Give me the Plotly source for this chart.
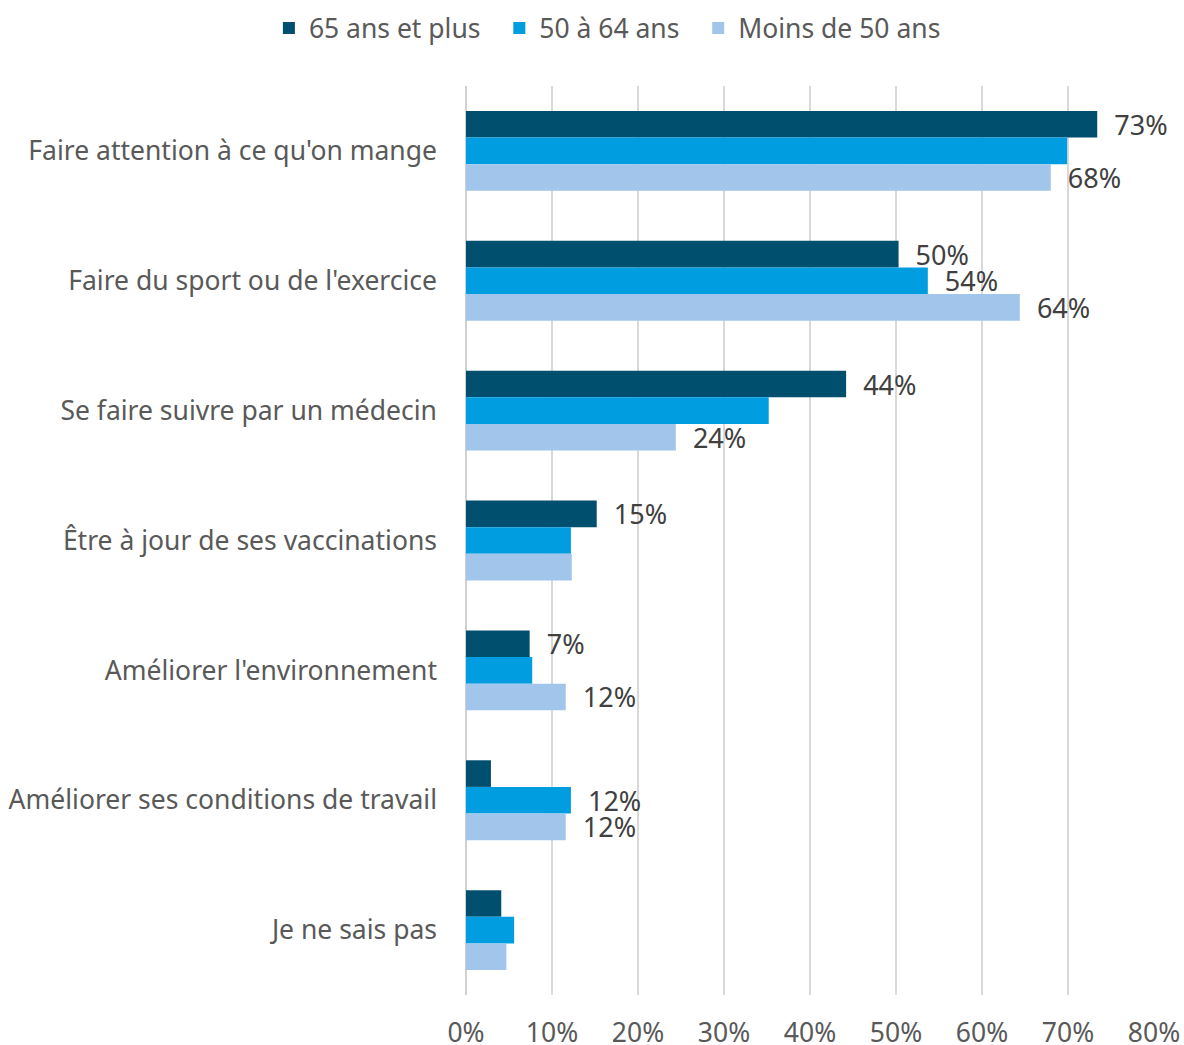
import plotly.graph_objs as go

categories = ["Faire attention à ce qu'on mange", "Faire du sport ou de l'exercice",
              "Se faire suivre par un médecin", "Être à jour de ses vaccinations",
              "Améliorer l'environnement", "Améliorer ses conditions de travail",
              "Je ne sais pas"]

series_names = ["65 ans et plus", "50 à 64 ans", "Moins de 50 ans"]

vals_65 = [73.4, 50.3, 44.2, 15.2, 7.4, 2.9, 4.1]
vals_50 = [69.9, 53.7, 35.2, 12.2, 7.7, 12.2, 5.6]
vals_moins = [68.0, 64.4, 24.4, 12.3, 11.6, 11.6, 4.7]

labels_65 = ["73%", "50%", "44%", "15%", "7%", "", ""]
labels_50 = ["", "54%", "", "", "", "12%", ""]
labels_moins = ["68%", "64%", "24%", "", "12%", "12%", ""]

colors = ['#004F6F', '#009EE0', '#A2C6EB']

font_family = "Noto Sans"
grey_txt = '#595959'
fsize = 26.5

fig = go.Figure()
for i, (name, vals, labs, col) in enumerate(zip(series_names,
                                 [vals_65, vals_50, vals_moins],
                                 [labels_65, labels_50, labels_moins],
                                 colors)):
    # a little extra room between legend entries
    pad = '\u00a0\u00a0' if i < 2 else ''
    fig.add_trace(go.Bar(y=categories, x=vals, name=name + pad, orientation='h',
                         marker=dict(color=col, line=dict(width=0)),
                         text=labs, texttemplate='\u00a0\u00a0%{text}',
                         textposition='outside', cliponaxis=False, constraintext='none',
                         textfont=dict(size=27, color='#404040', family=font_family)))

fig.update_layout(
    barmode='group',
    bargap=0.385,
    bargroupgap=0,
    width=1184,
    height=1045,
    plot_bgcolor='white',
    paper_bgcolor='white',
    font=dict(family=font_family, size=fsize, color=grey_txt),
    margin=dict(l=466, r=30, t=86, b=50, autoexpand=False),
    legend=dict(orientation='h', xref='container', yref='container',
                x=0.513, xanchor='center', y=0.973, yanchor='middle',
                font=dict(size=fsize, color=grey_txt),
                traceorder='normal'),
)

fig.update_xaxes(range=[0, 80], dtick=10, ticksuffix='%',
                 showgrid=True, gridcolor='#D9D9D9', gridwidth=2,
                 zeroline=True, zerolinecolor='#D0D0D0', zerolinewidth=2,
                 showline=False, ticklabelstandoff=19,
                 tickfont=dict(size=fsize, color=grey_txt))
fig.update_yaxes(autorange='reversed', showgrid=False, showline=False,
                 ticklabelstandoff=28,
                 tickfont=dict(size=fsize, color=grey_txt))

# drop the default 8px body margin so the figure fills the window
fig.write_html("out.html", config={'displayModeBar': False},
               post_script="document.body.style.margin='0';")
